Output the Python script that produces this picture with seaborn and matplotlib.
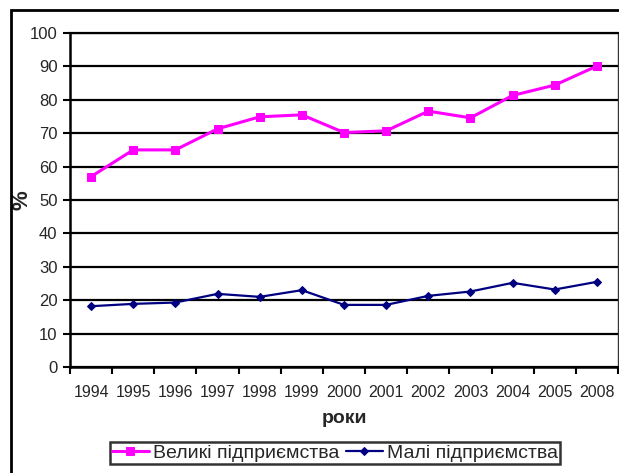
import pandas as pd
import matplotlib
matplotlib.use("Agg")
import matplotlib.pyplot as plt
import seaborn as sns
from matplotlib.patches import Rectangle
from matplotlib.ticker import FixedLocator

years = ['1994', '1995', '1996', '1997', '1998', '1999', '2000',
         '2001', '2002', '2003', '2004', '2005', '2008']
big = [57.0, 65.0, 65.0, 71.3, 74.9, 75.5, 70.2, 70.7, 76.6, 74.6, 81.3, 84.4, 90.1]
small = [18.2, 18.9, 19.3, 21.9, 21.0, 23.0, 18.6, 18.6, 21.3, 22.6, 25.2, 23.2, 25.5]
series_names = ['Великі підприємства', 'Малі підприємства']
y_ticks = list(range(0, 101, 10))

df = pd.DataFrame({
    'year': years * 2,
    'value': big + small,
    'series': [series_names[0]] * len(years) + [series_names[1]] * len(years),
})

sns.set_style('white')
plt.rcParams['font.family'] = ['Liberation Sans', 'DejaVu Sans']

fig = plt.figure(figsize=(6.19, 4.73), dpi=100)
ax = fig.add_axes([70 / 619, 1 - 367 / 473, 548 / 619, 334 / 473])

colors = ['#FF00FF', '#000080']
for name, col, mk, lw, ms in zip(series_names, colors, ['s', 'D'], [2.2, 1.6], [5.5, 4.5]):
    sub = df[df['series'] == name]
    sns.lineplot(data=sub, x='year', y='value', color=col, marker=mk,
                 markersize=ms, markeredgecolor=col, linewidth=lw, ax=ax,
                 label=name, sort=False)

ax.set_xlim(-0.5, len(years) - 0.5)
ax.set_ylim(0, 100)
ax.set_yticks(y_ticks)
ax.set_yticklabels([str(t) for t in y_ticks], fontsize=12)
ax.set_xticks(range(len(years)))
ax.set_xticklabels(years, fontsize=11.5)
ax.xaxis.set_minor_locator(FixedLocator([i - 0.5 for i in range(len(years) + 1)]))
ax.tick_params(axis='x', which='major', length=0, pad=13)
ax.tick_params(axis='x', which='minor', length=5, width=1.5, color='black', direction='out', bottom=True)
ax.tick_params(axis='y', length=5, width=1.5, color='black', direction='out', left=True, pad=4)

ax.yaxis.grid(True, color='black', linewidth=1.6)
ax.set_axisbelow(True)
for side in ['left', 'bottom']:
    ax.spines[side].set_color('black')
    ax.spines[side].set_linewidth(1.8)
ax.spines['top'].set_color('black')
ax.spines['top'].set_linewidth(1.6)
ax.spines['right'].set_color('#333333')
ax.spines['right'].set_linewidth(1.0)

ax.set_xlabel('роки', fontsize=14, fontweight='bold')
ax.xaxis.set_label_coords(0.5, -(410 - 367) / 334)
ax.set_ylabel('%', fontsize=16, fontweight='bold', va='center')
ax.yaxis.set_label_coords(-(70 - 22) / 548, 0.5)

handles, labels = ax.get_legend_handles_labels()
ax.get_legend().remove()
leg = fig.legend(handles, labels, loc='center', bbox_to_anchor=(335 / 619, 1 - 453 / 473),
                 ncol=2, frameon=True, fancybox=False, edgecolor='black', fontsize=14,
                 handlelength=1.9, handletextpad=0.25, columnspacing=0.3,
                 borderpad=0.1, borderaxespad=0)
leg.get_frame().set_linewidth(1.8)

fig.patches.append(Rectangle((11 / 619, -0.1), 1.2, 1.1 - 10 / 473,
                             transform=fig.transFigure, fill=False,
                             edgecolor='black', linewidth=2))

fig.savefig('out.png', dpi=100)
